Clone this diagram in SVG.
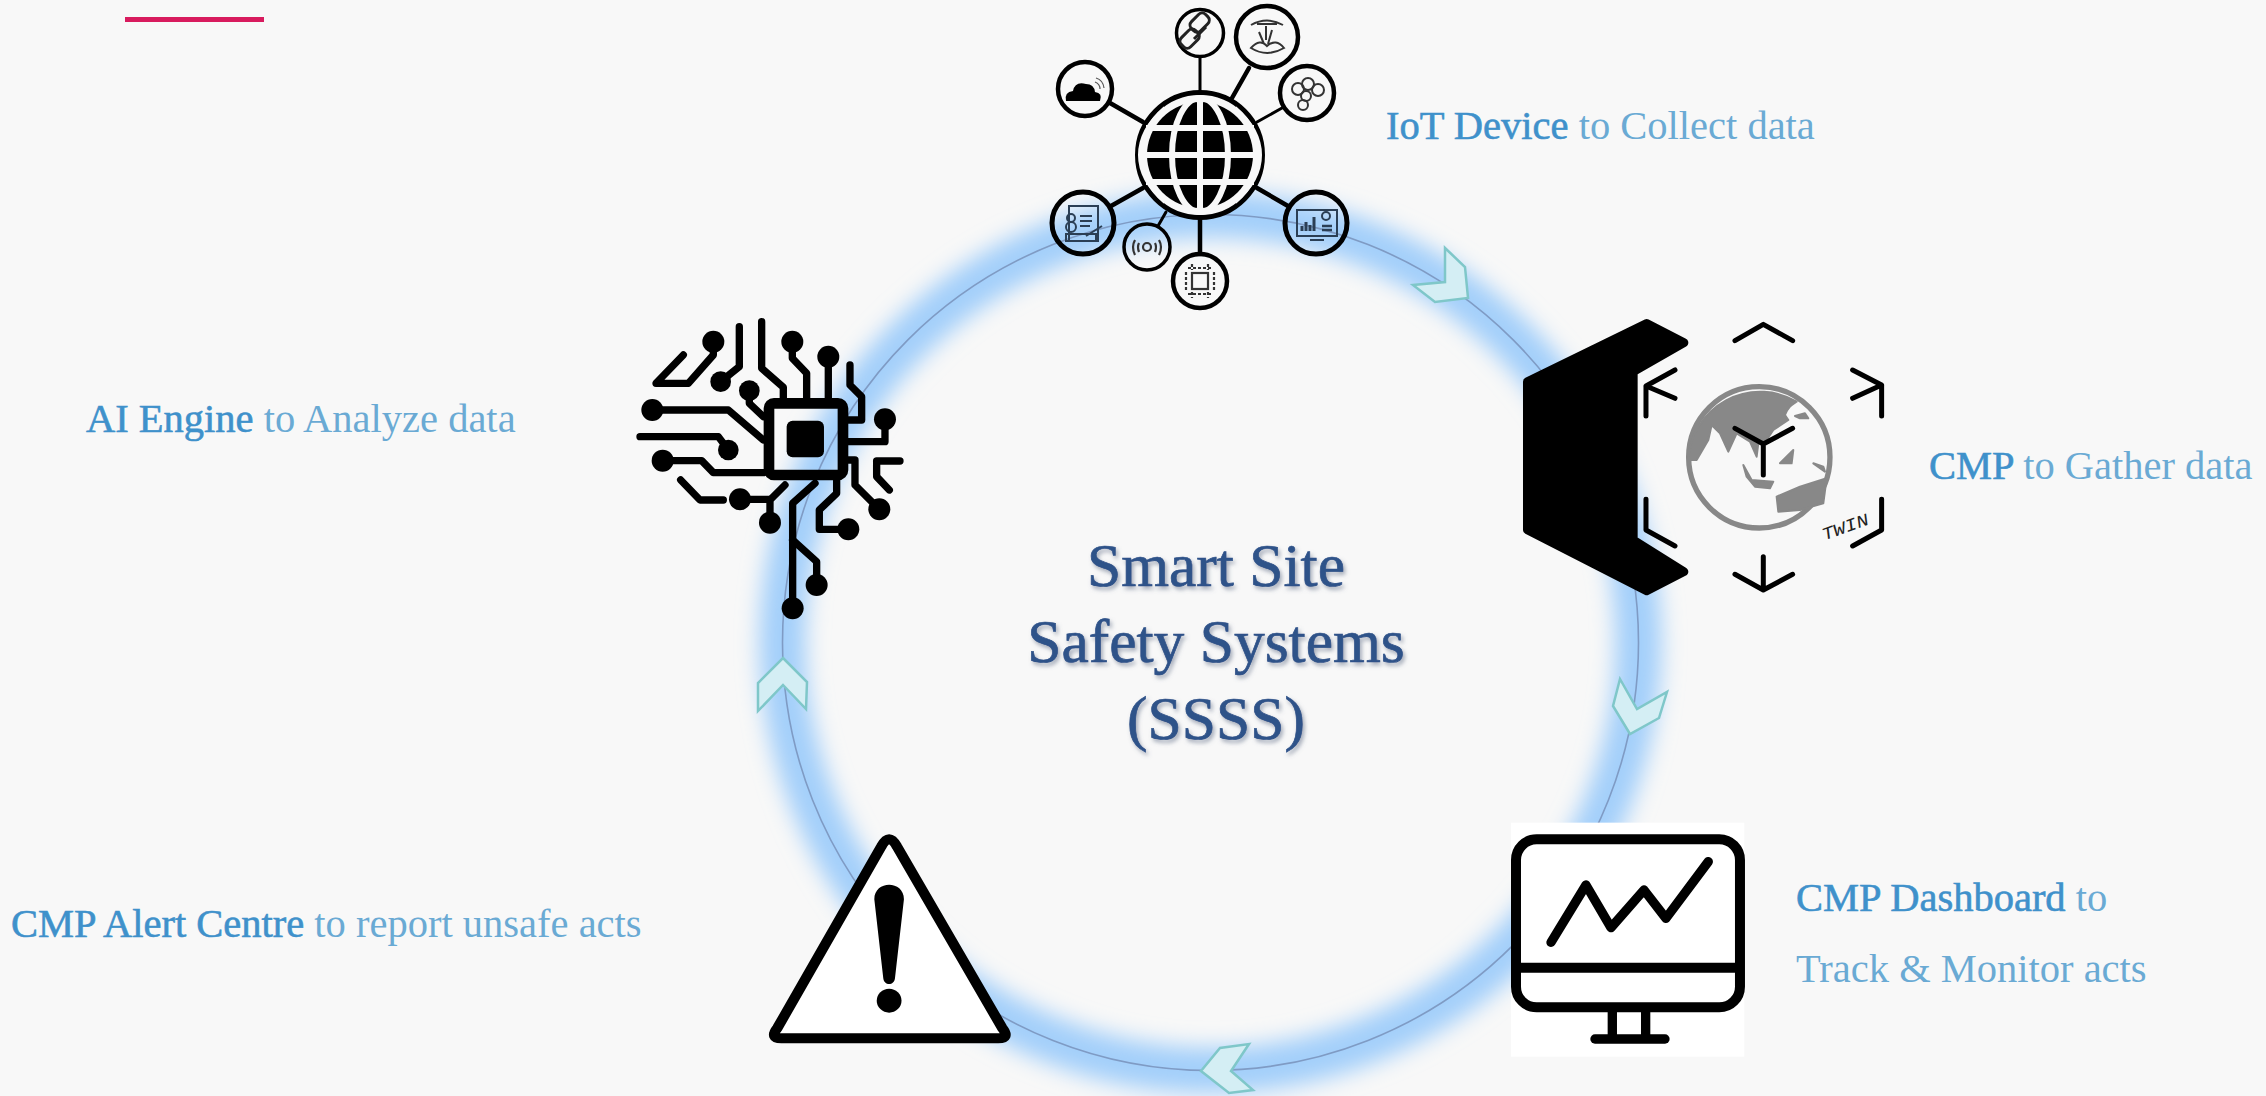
<svg xmlns="http://www.w3.org/2000/svg" width="2266" height="1096" viewBox="0 0 2266 1096">
<defs>
<style>
.lbl{font-family:"Liberation Serif","Noto Sans CJK TC",serif;font-size:40.5px;fill:#6aaad4}
.b{fill:#3f91cb;stroke:#3f91cb;stroke-width:.6px}
.ttl{font-family:"Liberation Serif","Noto Sans CJK TC",serif;font-size:61.5px;fill:#2f5289;stroke:#2f5289;stroke-width:.7px;text-anchor:middle;filter:url(#ts)}
.k{fill:none;stroke:#000;stroke-linecap:round;stroke-linejoin:round}
.chev{fill:#d4eef4;stroke:#7fc7c9;stroke-width:2.5;stroke-linejoin:miter}
.d{fill:#000}
</style>
<filter id="glow" x="-20%" y="-20%" width="140%" height="140%"><feGaussianBlur stdDeviation="11"/></filter>
<filter id="ts" x="-10%" y="-20%" width="120%" height="140%"><feDropShadow dx="2" dy="3" stdDeviation="2" flood-color="#5b6b84" flood-opacity=".55"/></filter>
</defs>
<rect width="2266" height="1096" fill="#f8f8f8"/>
<rect x="125" y="17" width="139" height="5" fill="#d81b5e"/>
<g id="connectors">
<circle cx="1210.5" cy="642.5" r="428" fill="none" stroke="#a3cffa" stroke-width="46" filter="url(#glow)"/>
<circle cx="1210.5" cy="642.5" r="428" fill="none" stroke="#7f9bc4" stroke-width="1.6"/>
<polygon class="chev" points="1445,248 1465,267 1468,298 1435,302 1413,285 1445,282"/>
<polygon class="chev" points="1620,679 1637,709 1667,692 1659,718 1630,734 1613,706"/>
<polygon class="chev" points="1201,1071 1220,1048 1249,1044 1231,1071 1253,1090 1229,1093"/>
<polygon class="chev" points="783,658 807,682 806,709 783,685 758,711 758,683"/>
</g>
<g id="iot-device">
<g class="k" stroke-width="4.5">
<line x1="1200" y1="57" x2="1200" y2="92" stroke-width="3"/><line x1="1249" y1="68" x2="1232" y2="98"/><line x1="1282" y1="108" x2="1257" y2="122" stroke-width="3"/>
<line x1="1143" y1="122" x2="1110" y2="103"/><line x1="1143" y1="188" x2="1111" y2="206"/><line x1="1257" y1="188" x2="1288" y2="206"/><line x1="1200" y1="218" x2="1200" y2="254"/><line x1="1166" y1="212" x2="1158" y2="226" stroke-width="3"/>
</g>
<circle cx="1200" cy="155" r="62.5" fill="#f8f8f8" stroke="#000" stroke-width="5"/>
<circle cx="1200" cy="155" r="53" fill="#000"/>
<g fill="none" stroke="#f8f8f8" stroke-width="6">
<line x1="1146" y1="128" x2="1254" y2="128"/><line x1="1142" y1="155" x2="1258" y2="155"/><line x1="1146" y1="182" x2="1254" y2="182"/>
<line x1="1200" y1="98" x2="1200" y2="212"/><ellipse cx="1200" cy="155" rx="28" ry="57"/><path d="M1165 108Q1140 130 1140 155Q1140 180 1165 202M1235 108Q1260 130 1260 155Q1260 180 1235 202" stroke-width="4"/>
</g>
<g fill="none" stroke="#000">
<circle cx="1200" cy="33" r="23.5" stroke-width="3.5"/><circle cx="1267" cy="37" r="31" stroke-width="4.5"/><circle cx="1307" cy="93" r="27" stroke-width="4.5"/><circle cx="1316" cy="223" r="31" stroke-width="5"/><circle cx="1200" cy="281" r="27" stroke-width="4.5"/><circle cx="1147" cy="247" r="23" stroke-width="3.5"/><circle cx="1083" cy="223" r="31" stroke-width="5"/><circle cx="1085" cy="89" r="27" stroke-width="4.5"/>
</g>
<g fill="none" stroke="#222" stroke-width="3">
<rect x="1193" y="13" width="13" height="20" rx="5" transform="rotate(45 1200 23)"/><rect x="1183" y="29" width="13" height="20" rx="5" transform="rotate(45 1190 39)"/><path d="M1194 39L1206 27" stroke-width="3"/>
</g>
<g fill="none" stroke="#333" stroke-width="2">
<path d="M1251 25Q1267 16 1283 25M1257 24L1277 24M1266 26V40M1272 30L1268 44M1259 32L1264 44M1251 48Q1260 38 1267 46Q1276 38 1284 48Q1267 58 1251 48Z"/>
<circle cx="1298" cy="89" r="6"/><circle cx="1308" cy="84" r="6"/><circle cx="1318" cy="90" r="6"/><circle cx="1306" cy="96" r="5"/><circle cx="1303" cy="105" r="5"/>
</g>
<g fill="none" stroke="#2b3f55" stroke-width="2">
<rect x="1297" y="210" width="40" height="26"/><path d="M1310 240H1324"/><path d="M1302 231V226M1306 231V222M1310 231V225M1314 231V217" stroke-width="3"/><circle cx="1326" cy="216" r="4"/><path d="M1322 226H1332M1322 230H1332" stroke-width="2.5"/>
<rect x="1069" y="206" width="29" height="35"/><circle cx="1071" cy="218" r="4"/><circle cx="1071" cy="227" r="5"/><path d="M1080 216H1092M1080 221H1092M1080 226H1090M1086 236L1102 226"/><rect x="1066" y="234" width="30" height="7"/>
</g>
<path d="M1066 101Q1064 92 1073 91Q1075 81 1086 84Q1094 84 1095 92Q1103 93 1100 101Z" fill="#000"/>
<g fill="none" stroke="#555" stroke-width="1.2"><path d="M1095 82Q1100 84 1100 89M1096 78Q1103 80 1104 88"/></g>
<g fill="none" stroke="#333" stroke-width="2.2">
<path d="M1135 240Q1131 247 1135 255M1159 240Q1163 247 1159 255M1139 243Q1137 247 1139 252M1155 243Q1157 247 1155 252"/><circle cx="1147" cy="247" r="4"/>
<rect x="1192" y="273" width="16" height="16"/><path d="M1188 268H1212M1188 294H1212M1186 272V290M1214 272V290M1192 264V270M1208 264V270M1192 292V298M1208 292V298" stroke-dasharray="3 2"/>
</g>
</g>
<g id="ai-engine" transform="translate(620 300) scale(.3333)">
<g class="k" stroke-width="22">
<path d="M280 125V165L205 250H108L190 165"/><path d="M302 245L358 200V80"/><path d="M388 272V310L430 350"/><path d="M425 65V205L490 262V295"/><path d="M517 125V175L560 220V295"/><path d="M625 170V295"/><path d="M690 195V255L725 290V360H685"/><path d="M795 358V425H685"/><path d="M840 483H770V530L808 570"/><path d="M778 628L705 555V480H685"/><path d="M685 688H598V630L650 580V540"/><path d="M518 925V610L585 550"/><path d="M590 855V785L518 720"/><path d="M450 668V600L495 555"/><path d="M360 598H450"/><path d="M182 540L240 600H310"/><path d="M128 482H245L280 518H430"/><path d="M60 410H295L325 450"/><path d="M97 330H325L430 420"/>
</g>
<g class="d"><circle cx="280" cy="125" r="33"/><circle cx="302" cy="245" r="31"/><circle cx="388" cy="272" r="31"/><circle cx="517" cy="125" r="33"/><circle cx="625" cy="170" r="33"/><circle cx="795" cy="358" r="33"/><circle cx="778" cy="628" r="33"/><circle cx="685" cy="688" r="33"/><circle cx="590" cy="855" r="33"/><circle cx="518" cy="925" r="33"/><circle cx="450" cy="668" r="33"/><circle cx="360" cy="598" r="33"/><circle cx="128" cy="482" r="33"/><circle cx="325" cy="450" r="31"/><circle cx="97" cy="330" r="33"/></g>
<rect x="447" y="310" width="222" height="215" rx="15" fill="none" stroke="#000" stroke-width="32"/>
<rect x="500" y="362" width="112" height="110" rx="18" class="d"/>
</g>
<g id="cmp" transform="translate(1480 290) scale(.3333)">
<path d="M500 100L612 158L460 245V750L612 845L500 903L142 720V275Z" fill="#000" stroke="#000" stroke-width="26" stroke-linejoin="round"/>
<circle cx="838" cy="502" r="212" fill="none" stroke="#888" stroke-width="16"/>
<g fill="#888" stroke="#888" stroke-width="6" stroke-linejoin="round">
<path d="M625 510A216 216 0 0 1 950 335C935 345 925 350 915 375L925 390L880 420L860 450L835 460L830 500L810 455L770 430L745 485L720 430L695 405L685 450L650 510Z"/>
<path d="M945 378L975 370L985 385L960 385Z"/><path d="M790 525L815 570L880 575L870 595L825 590L800 560Z"/><path d="M900 520L940 480L935 520Z"/><path d="M1000 520L1030 530L1035 545Z"/><path d="M890 620L960 590L1040 565L1030 640L960 660L895 665Z"/>
</g>
<g class="k" stroke-width="15">
<path d="M765 152L850 103L938 152"/><path d="M585 240L498 288V378M498 288L585 325"/><path d="M1118 240L1205 285V378M1205 285L1118 325"/><path d="M498 628V720L585 768"/><path d="M1205 628V720L1118 768"/><path d="M765 853L850 900L938 853M850 800V900"/><path d="M765 415L850 462L938 415M850 462V555"/>
</g>
<text x="1095" y="728" transform="rotate(-20 1095 710)" font-family="Liberation Mono,monospace" font-style="italic" font-size="52" textLength="146" lengthAdjust="spacingAndGlyphs" text-anchor="middle" fill="#222">TWIN</text>
</g>
<g id="dashboard" transform="translate(1480 800) scale(.3333)">
<rect x="93" y="68" width="700" height="702" fill="#fff"/>
<rect x="108" y="118" width="672" height="504" rx="62" fill="none" stroke="#000" stroke-width="30"/>
<path d="M108 503H780" stroke="#000" stroke-width="30"/>
<path d="M397 630V715M497 630V715" stroke="#000" stroke-width="28"/>
<path class="k" stroke-width="28" d="M345 717H555"/>
<path class="k" stroke-width="28" d="M213 427L318 255L393 383L492 270L558 355L685 185"/>
</g>
<g id="alert" transform="translate(740 650) scale(.3444 .3333)">
<path d="M410 590Q433 545 456 590L762 1135Q785 1165 750 1165H120Q85 1165 108 1135Z" fill="#fff" stroke="#000" stroke-width="30" stroke-linejoin="round"/>
<path d="M390 748C390 690 476 690 476 748L450 985C448 1008 418 1008 416 985Z" class="d"/>
<circle cx="433" cy="1052" r="36" class="d"/>
</g>
<g id="labels">
<text class="lbl" x="1386" y="139"><tspan class="b">IoT Device</tspan> to Collect data</text>
<text class="lbl" x="1929" y="479"><tspan class="b">CMP</tspan> to Gather data</text>
<text class="lbl" x="1796" y="911"><tspan class="b">CMP Dashboard</tspan> to</text>
<text class="lbl" x="1796" y="982">Track &amp; Monitor acts</text>
<text class="lbl" x="11" y="937"><tspan class="b">CMP Alert Centre</tspan> to report unsafe acts</text>
<text class="lbl" x="86" y="432"><tspan class="b">AI Engine</tspan> to Analyze data</text>
</g>
<g id="title">
<text class="ttl" x="1216" y="586">Smart Site</text>
<text class="ttl" x="1216" y="662">Safety Systems</text>
<text class="ttl" x="1216" y="739">(SSSS)</text>
</g>
</svg>
